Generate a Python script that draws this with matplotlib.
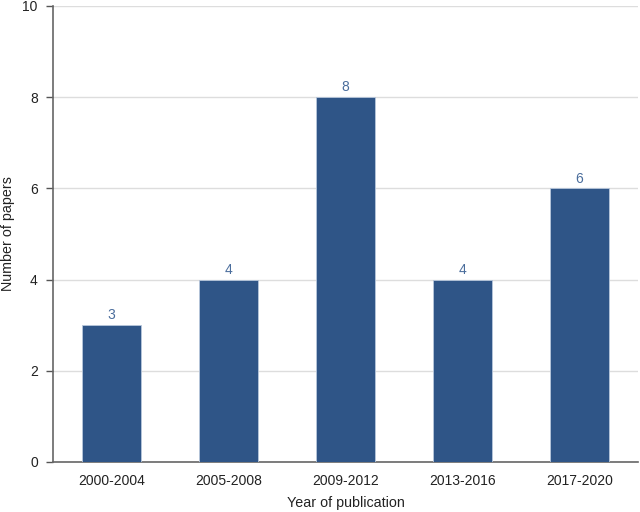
import matplotlib
matplotlib.use("Agg")
import matplotlib.pyplot as plt

categories = ["2000-2004", "2005-2008", "2009-2012", "2013-2016", "2017-2020"]
values = [3, 4, 8, 4, 6]
yticks = [0, 2, 4, 6, 8, 10]

plt.rcParams['font.family'] = ['Liberation Sans', 'DejaVu Sans']

fig = plt.figure(figsize=(6.4, 5.12), dpi=100)
ax = fig.add_axes([0.083, 0.0977, 0.914, 0.891])

x = range(len(categories))
bars = ax.bar(x, values, width=0.5, color="#2f5587", edgecolor="#b8c7dc", linewidth=0.6, zorder=3)
for xi, v in zip(x, values):
    ax.text(xi, v + 0.06, str(v), ha="center", va="bottom", fontsize=10, color="#4a6d9c")

ax.set_xlim(-0.5, len(categories) - 0.5)
ax.set_ylim(0, 10)
ax.set_yticks(yticks)
ax.set_xticks(list(x))
ax.set_xticklabels(categories, fontsize=10, color="#222222")
ax.tick_params(axis="x", length=0, pad=9)
ax.tick_params(axis="y", length=5, width=1, color="#555555", labelsize=10, labelcolor="#222222", pad=6)
ax.grid(axis="y", color="#dddddd", linewidth=1, zorder=0)

for s in ["top", "right"]:
    ax.spines[s].set_visible(False)
ax.spines["left"].set_color("#666666")
ax.spines["bottom"].set_color("#666666")
ax.spines["left"].set_linewidth(1.2)
ax.spines["bottom"].set_linewidth(1.2)

ax.set_xlabel("Year of publication", fontsize=10.3, color="#222222")
ax.set_ylabel("Number of papers", fontsize=10.3, color="#222222")
ax.xaxis.set_label_coords(0.5, -0.074)
ax.yaxis.set_label_coords(-0.066, 0.5)

fig.savefig("out.png", dpi=100)
